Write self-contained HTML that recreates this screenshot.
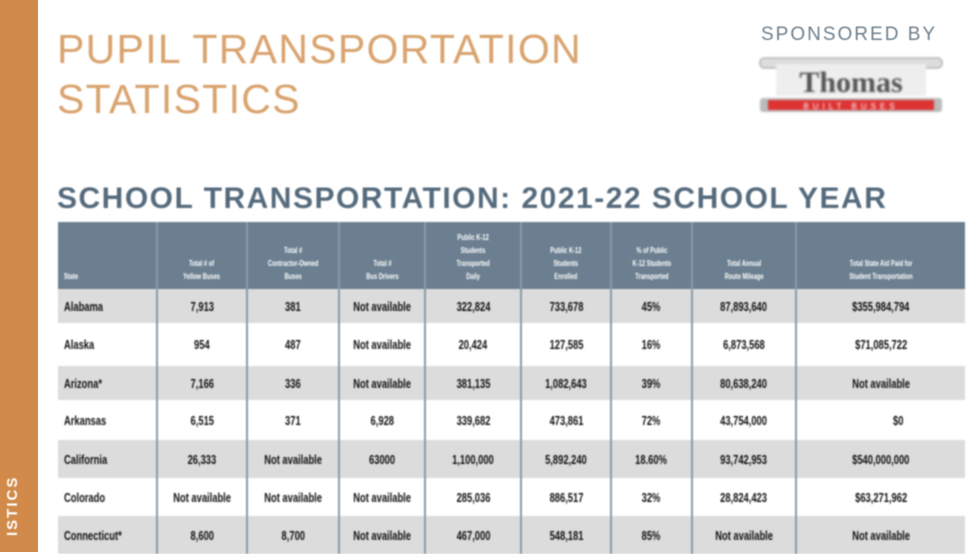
<!DOCTYPE html>
<html><head><meta charset="utf-8"><style>
*{margin:0;padding:0;box-sizing:border-box}
body{width:980px;height:552px;overflow:hidden;background:#fff;position:relative;font-family:"Liberation Sans",sans-serif}
.bar{position:absolute;left:0;top:0;width:38px;height:552px;background:#d28a4a}
.vt{position:absolute;left:4px;top:476px;width:30px;height:60px;color:#fff;font-weight:bold;font-size:15px;letter-spacing:2px;writing-mode:vertical-rl;transform:rotate(180deg);text-align:left;filter:blur(0.6px)}
.t1{position:absolute;left:57px;top:24px;color:#d9a36e;font-size:41px;line-height:50px;letter-spacing:1.3px;filter:blur(0.7px)}
.sp{position:absolute;left:761px;top:24px;color:#6d7f8c;font-size:19px;letter-spacing:2px;filter:blur(0.6px)}
.logo{position:absolute;left:758px;top:54px;width:186px;height:62px;filter:blur(1px)}
.h2{position:absolute;left:57px;top:182px;color:#556b7d;font-weight:bold;font-size:30px;letter-spacing:1.5px;filter:blur(0.7px)}
table{position:absolute;left:58px;top:222px;width:907px;border-collapse:collapse;font-size:13px;font-weight:bold;color:#111;filter:blur(0.8px)}
th{background:#6b7f90;color:#fff;font-size:8px;height:67px;vertical-align:bottom;padding-bottom:6px;border-left:2px solid #8c9aa6;line-height:13px}
th span,td span{display:inline-block;transform:scaleX(.72);white-space:nowrap}
td:first-child span,th:first-child span{transform-origin:left}
td{text-align:center;border-left:2px solid #8c9aa6}
td:first-child,th:first-child{text-align:left;padding-left:6px;border-left:none}
tr.g td{background:#dcdcdc}
</style></head><body>
<div class="bar"></div><div class="vt">ISTICS</div>
<div class="t1">PUPIL TRANSPORTATION<br>STATISTICS</div>
<div class="sp">SPONSORED BY</div>
<svg class="logo" viewBox="0 0 186 62">
<rect x="2" y="4" width="182" height="10" rx="4" fill="#ddd" stroke="#999"/>
<rect x="18" y="10" width="150" height="32" fill="#eee"/>
<text x="93" y="38" text-anchor="middle" font-family="Liberation Serif" font-weight="bold" font-size="30" fill="#555">Thomas</text>
<rect x="2" y="44" width="182" height="14" rx="3" fill="#bbb"/>
<rect x="10" y="46" width="166" height="10" fill="#d33"/>
<text x="93" y="55" text-anchor="middle" font-size="8" fill="#fff" letter-spacing="4">BUILT BUSES</text>
</svg>
<div class="h2">SCHOOL TRANSPORTATION: 2021-22 SCHOOL YEAR</div>
<table>
<colgroup><col style="width:99px"><col style="width:90px"><col style="width:92px"><col style="width:86px"><col style="width:96px"><col style="width:90px"><col style="width:81px"><col style="width:104px"><col style="width:169px"></colgroup>
<tr><th><span>State</span></th><th><span>Total # of<br>Yellow Buses</span></th><th><span>Total #<br>Contractor-Owned<br>Buses</span></th><th><span>Total #<br>Bus Drivers</span></th><th><span>Public K-12<br>Students<br>Transported<br>Daily</span></th><th><span>Public K-12<br>Students<br>Enrolled</span></th><th><span>% of Public<br>K-12 Students<br>Transported</span></th><th><span>Total Annual<br>Route Mileage</span></th><th><span>Total State Aid Paid for<br>Student Transportation</span></th></tr>
<tr class="g" style="height:34px"><td><span>Alabama</span></td><td><span>7,913</span></td><td><span>381</span></td><td><span>Not available</span></td><td><span>322,824</span></td><td><span>733,678</span></td><td><span>45%</span></td><td><span>87,893,640</span></td><td><span>$355,984,794</span></td></tr>
<tr style="height:43px"><td><span>Alaska</span></td><td><span>954</span></td><td><span>487</span></td><td><span>Not available</span></td><td><span>20,424</span></td><td><span>127,585</span></td><td><span>16%</span></td><td><span>6,873,568</span></td><td><span>$71,085,722</span></td></tr>
<tr class="g" style="height:34px"><td><span>Arizona*</span></td><td><span>7,166</span></td><td><span>336</span></td><td><span>Not available</span></td><td><span>381,135</span></td><td><span>1,082,643</span></td><td><span>39%</span></td><td><span>80,638,240</span></td><td><span>Not available</span></td></tr>
<tr style="height:40px"><td><span>Arkansas</span></td><td><span>6,515</span></td><td><span>371</span></td><td><span>6,928</span></td><td><span>339,682</span></td><td><span>473,861</span></td><td><span>72%</span></td><td><span>43,754,000</span></td><td style="text-align:right;padding-right:60px"><span>$0</span></td></tr>
<tr class="g" style="height:38px"><td><span>California</span></td><td><span>26,333</span></td><td><span>Not available</span></td><td><span>63000</span></td><td><span>1,100,000</span></td><td><span>5,892,240</span></td><td><span>18.60%</span></td><td><span>93,742,953</span></td><td><span>$540,000,000</span></td></tr>
<tr style="height:38px"><td><span>Colorado</span></td><td><span>Not available</span></td><td><span>Not available</span></td><td><span>Not available</span></td><td><span>285,036</span></td><td><span>886,517</span></td><td><span>32%</span></td><td><span>28,824,423</span></td><td><span>$63,271,962</span></td></tr>
<tr class="g" style="height:38px"><td><span>Connecticut*</span></td><td><span>8,600</span></td><td><span>8,700</span></td><td><span>Not available</span></td><td><span>467,000</span></td><td><span>548,181</span></td><td><span>85%</span></td><td><span>Not available</span></td><td><span>Not available</span></td></tr>
</table>
</body></html>
